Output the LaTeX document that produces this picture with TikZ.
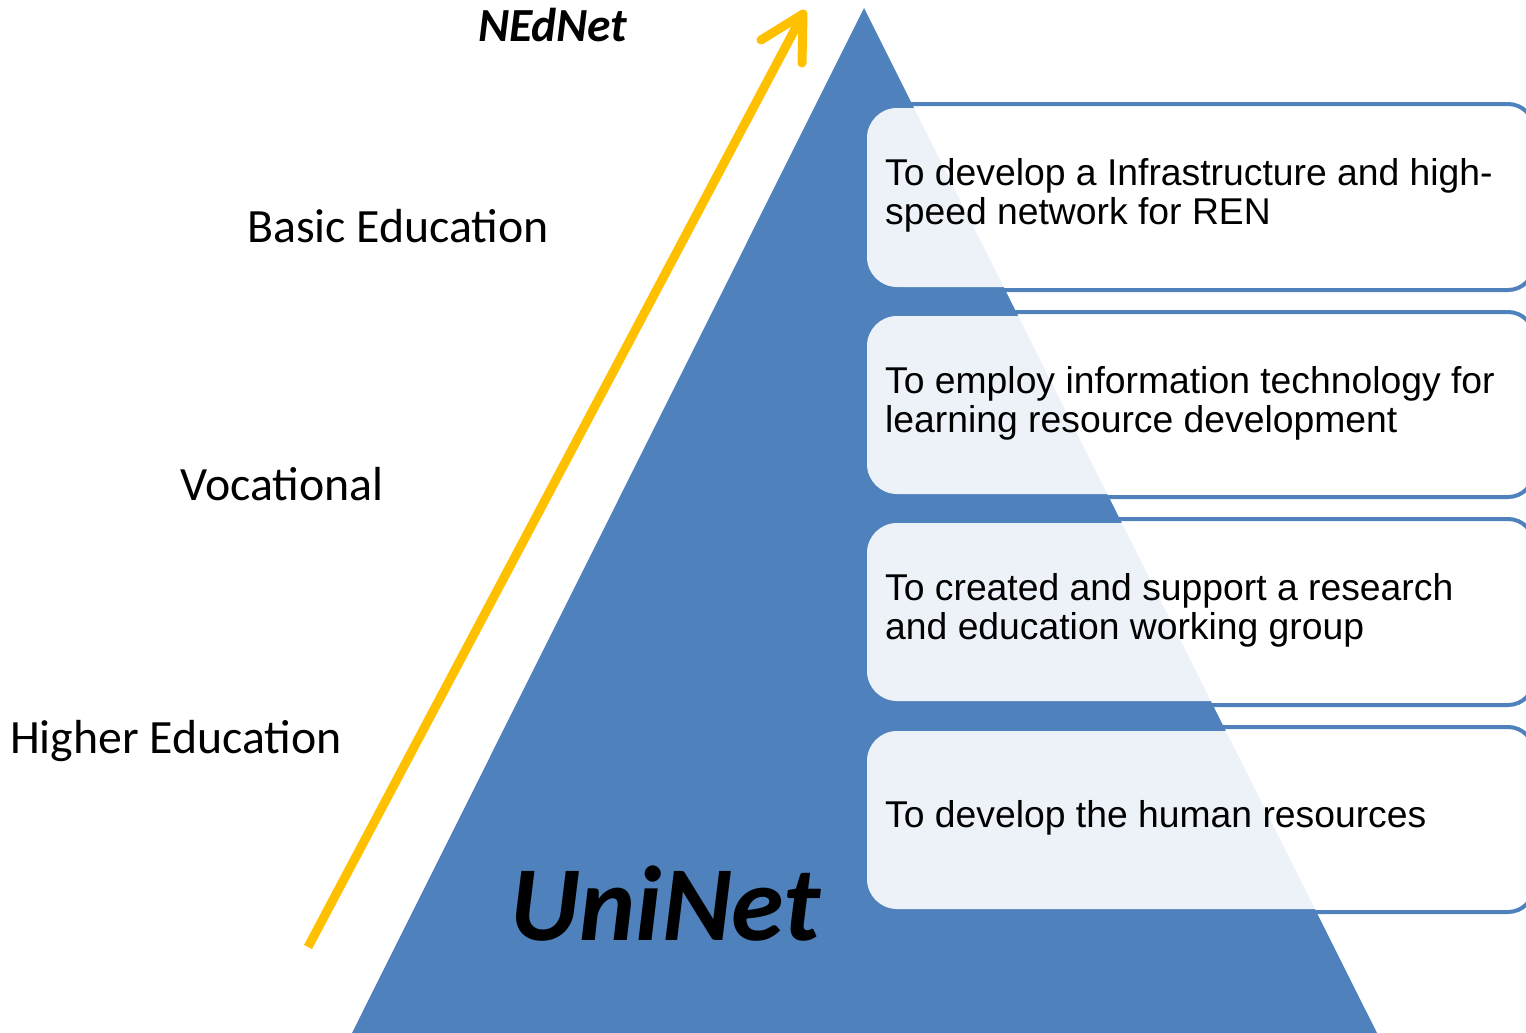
\documentclass[tikz,border=0pt]{standalone}
\usepackage{fontspec}
\usetikzlibrary{calc}
\setmainfont{Liberation Sans}
\newfontfamily\calfont{Carlito}
\definecolor{pyrblue}{HTML}{4F81BD}
\definecolor{arrowyellow}{HTML}{FFC000}
\begin{document}
\begin{tikzpicture}[x=1pt,y=-1pt,
  backbox/.style={draw=pyrblue, line width=4pt, fill=white, rounded corners=26pt},
  frontbox/.style={fill=white, fill opacity=0.9, rounded corners=30pt},
  boxtext/.style={anchor=base west, inner sep=0pt, font=\fontsize{37.3}{39}\selectfont},
  sidelabel/.style={anchor=base west, inner sep=0pt, font=\calfont\fontsize{47.8}{56}\selectfont},
  arrowline/.style={draw=arrowyellow, line width=9pt}]
\useasboundingbox (0,0) rectangle (1526,1033);

% back outlined boxes
\foreach \t/\b in {104/290, 312/497, 519/705, 727/912}{
  \draw[backbox] (870,\t) rectangle (1534,\b);
}

% pyramid
\fill[pyrblue] (864,8) -- (352,1033) -- (1377,1033) -- cycle;

% front boxes
\foreach \t/\b in {108/287, 316/494, 523/701, 731/909}{
  \fill[frontbox] (867,\t) rectangle (1518,\b);
}

% box texts
\node[boxtext] (t1) at (885,185) {\begin{tabular}[t]{@{}l@{}}To develop a Infrastructure and high-\\speed network for REN\end{tabular}};
\node[boxtext] (t2) at (885,393) {\begin{tabular}[t]{@{}l@{}}To employ information technology for\\learning resource development\end{tabular}};
\node[boxtext] (t3) at (885,600) {\begin{tabular}[t]{@{}l@{}}To created and support a research\\and education working group\end{tabular}};
\node[boxtext] (t4) at (885,827) {To develop the human resources};

% arrow
\coordinate (tail) at (308,947);
\coordinate (tip) at (803,14);
\coordinate (shaftend) at ($(tail)!0.995!(tip)$);
\coordinate (armA) at (761,40);
\coordinate (armB) at (802,63);
\draw[arrowline] (tail) -- (shaftend);
\draw[arrowline, line cap=round, line join=round] (armA) -- (tip) -- (armB);

% labels
\node[anchor=base west, inner sep=0pt, font=\calfont\bfseries\itshape\fontsize{47.5}{56}\selectfont] (ned) at (478,42) {NEdNet};
\node[sidelabel] (basic) at (247,242) {Basic Education};
\node[sidelabel] (voc) at (180,500) {Vocational};
\node[sidelabel] (higher) at (10,753) {Higher Education};
\node[anchor=base west, inner sep=0pt, font=\calfont\bfseries\itshape\fontsize{106.5}{120}\selectfont] (uni) at (510,940) {UniNet};
\end{tikzpicture}
\end{document}
